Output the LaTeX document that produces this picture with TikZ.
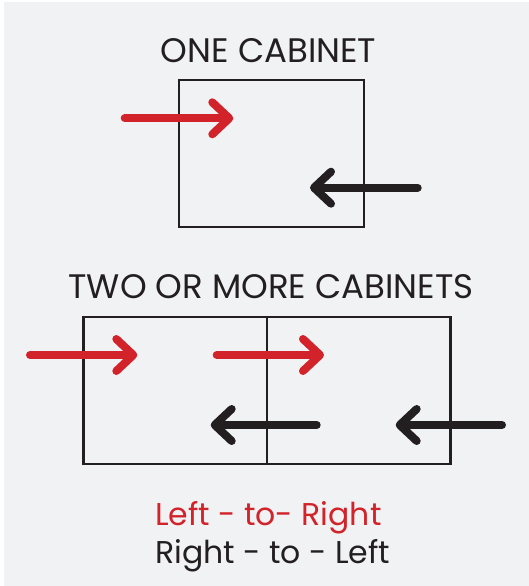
\documentclass[tikz,border=0pt]{standalone}
\usepackage{fontspec}
\setmainfont{Poppins}
\usetikzlibrary{positioning, arrows.meta}

\definecolor{cabred}{HTML}{D2232A}
\definecolor{cabblack}{HTML}{231F20}
\definecolor{cabgrey}{HTML}{F1F2F4}

\begin{document}
\begin{tikzpicture}[
    x=1pt, y=-1pt,
    cabinetnode/.style={rectangle, draw=cabblack, line width=2.8pt, minimum height=147pt, inner sep=0pt, outer sep=0pt},
    flowarrow/.style={line width=8pt, line cap=round, -{Straight Barb[length=17pt, width=32pt, round]}},
    titlenode/.style={text=cabblack, font=\fontsize{34}{40}\selectfont, inner sep=0pt, outer sep=0pt},
    legendnode/.style={font=\fontsize{31.5}{38}\selectfont, inner sep=0pt, anchor=base west}
]
\useasboundingbox (0,0) rectangle (529,586);
\fill[white] (0,0) rectangle (529,586);
\fill[cabgrey] (4,2) rectangle (529,586);

% one cabinet
\node[cabinetnode, minimum width=185pt](cab_1) at (271.5,153.5){};
\node[titlenode](title_1)[above = 17.5pt of cab_1, xshift=-3pt]{ONE CABINET};

% two or more cabinets
\node[cabinetnode, minimum width=183.5pt](cab_2_1) at (175.25,390.5){};
\node[cabinetnode, minimum width=183.5pt](cab_2_2)[right = 0pt of cab_2_1]{};
\node[titlenode](title_2)[above = 18.5pt of cab_2_1.north east, xshift=4pt]{TWO OR MORE CABINETS};

\coordinate (red_1_s) at (124.7,118.3);
\coordinate (red_1_e) at (233.3,118.3);
\coordinate (blk_1_s) at (417.7,187.7);
\coordinate (blk_1_e) at (310,187.7);
\coordinate (red_2_1_s) at (30,355);
\coordinate (red_2_1_e) at (137.3,355);
\coordinate (red_2_2_s) at (216.7,355);
\coordinate (red_2_2_e) at (324,355);
\coordinate (blk_2_1_s) at (316.7,425);
\coordinate (blk_2_1_e) at (210.7,425);
\coordinate (blk_2_2_s) at (502,425);
\coordinate (blk_2_2_e) at (395.7,425);

\draw[flowarrow, cabred] (red_1_s) -- (red_1_e);
\draw[flowarrow, cabblack] (blk_1_s) -- (blk_1_e);
\draw[flowarrow, cabred] (red_2_1_s) -- (red_2_1_e);
\draw[flowarrow, cabred] (red_2_2_s) -- (red_2_2_e);
\draw[flowarrow, cabblack] (blk_2_1_s) -- (blk_2_1_e);
\draw[flowarrow, cabblack] (blk_2_2_s) -- (blk_2_2_e);

% legend
\node[legendnode, text=cabred](ltr) at (155,525.7){Left - to- Right};
\node[legendnode, text=cabblack](rtl) at (155,563.3){Right - to - Left};
\end{tikzpicture}
\end{document}
